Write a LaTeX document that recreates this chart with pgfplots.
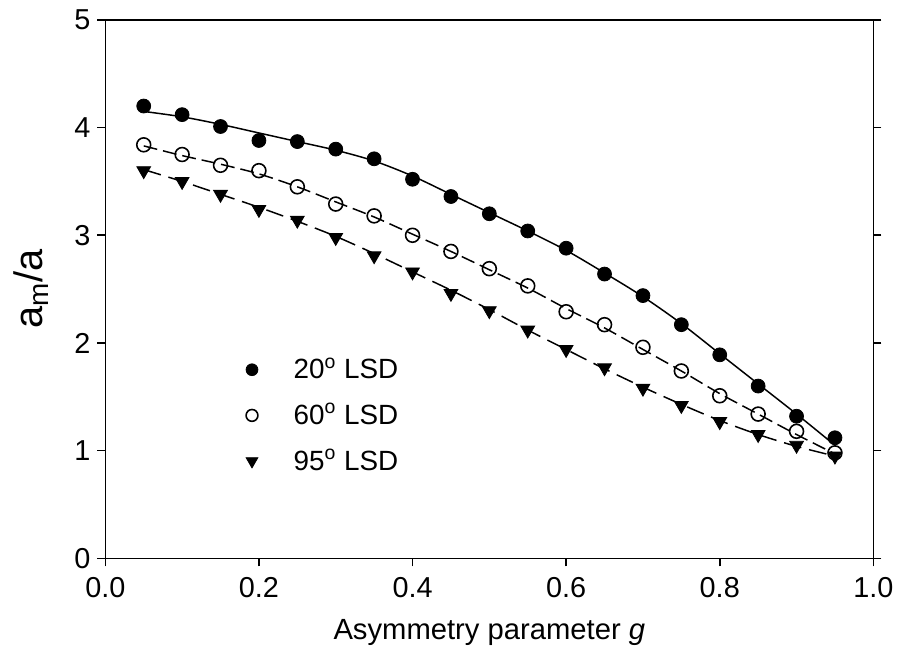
\documentclass[border=0pt]{standalone}
\usepackage{pgfplots}
\pgfplotsset{compat=1.18}
\usepackage{fontspec}
\setmainfont{Liberation Sans}
\begin{document}
\begin{tikzpicture}
\path (-53pt,-49pt) rectangle (398pt,281pt);
\begin{axis}[
  scale only axis,
  width=386.5pt, height=271pt,
  xmin=0, xmax=1, ymin=0, ymax=5,
  xtick={0,0.2,...,1.0},
  ytick={0,1,...,5},
  xticklabel style={yshift=-2pt, /pgf/number format/.cd,fixed,fixed zerofill,precision=1},
  /pgf/number format/assume math mode=true,
  tick align=outside,
  major tick length=4pt,
  xtick pos=bottom,
  ytick pos=both,
  axis line style={line width=0.8pt},
  tick style={line width=0.8pt, black},
  tick label style={font=\fontsize{14.5}{17}\selectfont},
  xlabel={Asymmetry parameter \textit{g}},
  ylabel={a\textsubscript{m}/a},
  xlabel style={font=\fontsize{14.7}{17}\selectfont, yshift=-4pt},
  ylabel style={font=\fontsize{20}{22}\selectfont, yshift=6pt},
  legend style={draw=none, fill=none, at={(rel axis cs:0.175,0.388)}, anchor=north west,
    font=\fontsize{14}{16}\selectfont, row sep=7pt, column sep=16pt},
  legend image post style={scale=0.85},
  legend cell align=left,
]
% markers
\addplot[only marks, mark=*, mark size=3.5pt, mark options={fill=black, draw=black}] coordinates {
(0.05,4.20) (0.10,4.12) (0.15,4.01) (0.20,3.88) (0.25,3.87) (0.30,3.80) (0.35,3.71)
(0.40,3.52) (0.45,3.36) (0.50,3.20) (0.55,3.04) (0.60,2.88) (0.65,2.64) (0.70,2.44)
(0.75,2.17) (0.80,1.89) (0.85,1.60) (0.90,1.32) (0.95,1.12)};
\addlegendentry{20\textsuperscript{o} LSD}
\addplot[only marks, mark=o, mark size=3.5pt, mark options={fill=white, draw=black, line width=0.8pt}] coordinates {
(0.05,3.84) (0.10,3.75) (0.15,3.65) (0.20,3.60) (0.25,3.45) (0.30,3.29) (0.35,3.18)
(0.40,3.00) (0.45,2.85) (0.50,2.69) (0.55,2.53) (0.60,2.29) (0.65,2.17) (0.70,1.96)
(0.75,1.74) (0.80,1.51) (0.85,1.34) (0.90,1.18) (0.95,0.98)};
\addlegendentry{60\textsuperscript{o} LSD}
\addplot[only marks, mark=triangle*, mark size=4pt, mark options={fill=black, draw=black, rotate=180}] coordinates {
(0.05,3.60) (0.10,3.50) (0.15,3.38) (0.20,3.24) (0.25,3.14) (0.30,2.98) (0.35,2.81)
(0.40,2.66) (0.45,2.46) (0.50,2.30) (0.55,2.12) (0.60,1.94) (0.65,1.77) (0.70,1.58)
(0.75,1.42) (0.80,1.27) (0.85,1.15) (0.90,1.05) (0.95,0.95)};
\addlegendentry{95\textsuperscript{o} LSD}
% fitted curves
\addplot[black, line width=0.75pt, smooth, no marks, forget plot] coordinates {
(0.05,4.15) (0.10,4.10) (0.15,4.03) (0.20,3.95) (0.25,3.87) (0.30,3.79) (0.35,3.69)
(0.40,3.55) (0.45,3.38) (0.50,3.21) (0.55,3.04) (0.60,2.86) (0.65,2.65) (0.70,2.43)
(0.75,2.18) (0.80,1.90) (0.85,1.62) (0.90,1.34) (0.95,1.05)};
\addplot[black, line width=0.75pt, smooth, no marks, dash pattern=on 7pt off 3pt, forget plot] coordinates {
(0.05,3.83) (0.10,3.74) (0.15,3.66) (0.20,3.57) (0.25,3.45) (0.30,3.31) (0.35,3.17)
(0.40,3.01) (0.45,2.85) (0.50,2.68) (0.55,2.51) (0.60,2.32) (0.65,2.14) (0.70,1.94)
(0.75,1.74) (0.80,1.53) (0.85,1.34) (0.90,1.15) (0.95,0.97)};
\addplot[black, line width=0.75pt, smooth, no marks, dash pattern=on 9pt off 4pt, forget plot] coordinates {
(0.05,3.61) (0.10,3.50) (0.15,3.38) (0.20,3.26) (0.25,3.13) (0.30,2.99) (0.35,2.83)
(0.40,2.66) (0.45,2.49) (0.50,2.31) (0.55,2.12) (0.60,1.94) (0.65,1.76) (0.70,1.59)
(0.75,1.43) (0.80,1.28) (0.85,1.15) (0.90,1.04) (0.95,0.95)};
\end{axis}
\end{tikzpicture}
\end{document}
